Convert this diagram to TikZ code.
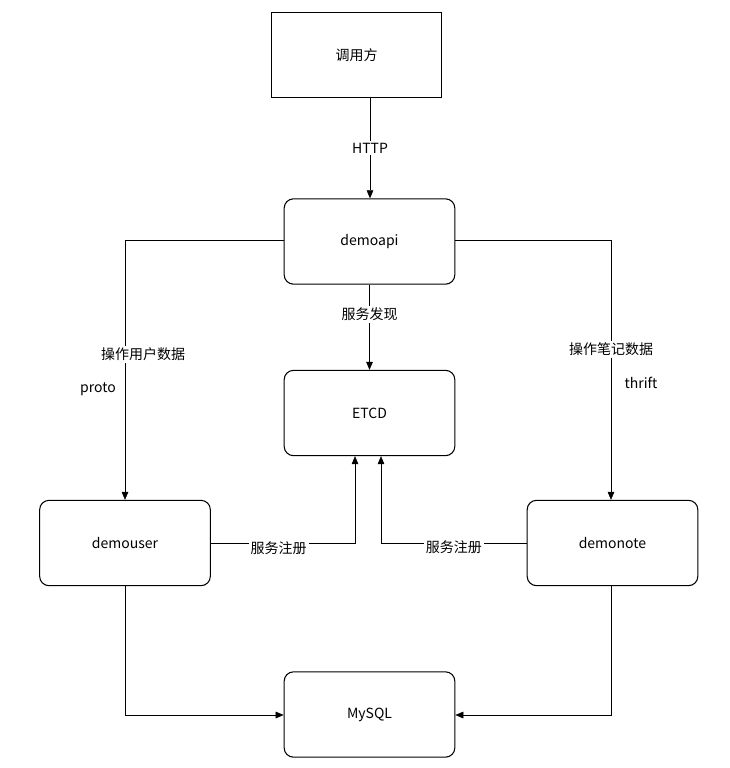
\documentclass[tikz,border=0pt]{standalone}
\usepackage{fontspec}
\setmainfont{Noto Sans CJK SC}
\usetikzlibrary{arrows.meta}
\begin{document}
\begin{tikzpicture}[x=0.75pt,y=-0.75pt,
  box/.style={draw,thick,rounded corners=7pt,minimum width=128pt,minimum height=64pt,font=\fontsize{10.5}{12}\selectfont},
  sq/.style={box,rounded corners=0pt},
  lbl/.style={fill=white,inner sep=1.5pt,font=\fontsize{10.5}{12}\selectfont},
  plain/.style={inner sep=1pt,font=\fontsize{10.5}{12}\selectfont},
  arr/.style={draw,-{Triangle[length=6pt,width=5pt]}}]
\useasboundingbox (0,0) rectangle (730,768);
\fill[white] (0,0) rectangle (730,768);
\node[sq] (caller) at (356.5,55) {调用方};
\node[box] (api) at (369.5,241.5) {demoapi};
\node[box] (etcd) at (369.5,413) {ETCD};
\node[box] (user) at (125,543) {demouser};
\node[box] (note) at (612.5,543) {demonote};
\node[box] (mysql) at (369.5,714.5) {MySQL};
\draw[arr] (caller.south -| 370,0) -- node[lbl]{HTTP} (api.north -| 370,0);
\draw[arr] (api) -- node[lbl,pos=0.35]{服务发现} (etcd);
\coordinate (ul) at (125,240);
\coordinate (ur) at (611,240);
\draw[arr] (api.west |- ul) -- (ul) -- node[lbl,pos=0.44,xshift=18pt*0.75]{操作用户数据} (user.north -| ul);
\node[plain] (proto) at (98,389) {proto};
\draw[arr] (api.east |- ur) -- (ur) -- node[lbl,pos=0.42]{操作笔记数据} (note.north -| ur);
\node[plain] (thrift) at (641,383) {thrift};
\coordinate (eu) at (355,543);
\coordinate (en) at (381,543);
\draw[arr] (user.east |- eu) -- node[lbl,pos=0.47,yshift=-4pt]{服务注册} (eu) -- (etcd.south -| eu);
\draw[arr] (note.west |- en) -- node[lbl,pos=0.5,yshift=-3pt]{服务注册} (en) -- (etcd.south -| en);
\coordinate (mu) at (125,715);
\coordinate (mn) at (611,715);
\draw[arr] (user.south -| mu) -- (mu) -- (mysql.west |- mu);
\draw[arr] (note.south -| mn) -- (mn) -- (mysql.east |- mn);
\end{tikzpicture}
\end{document}
